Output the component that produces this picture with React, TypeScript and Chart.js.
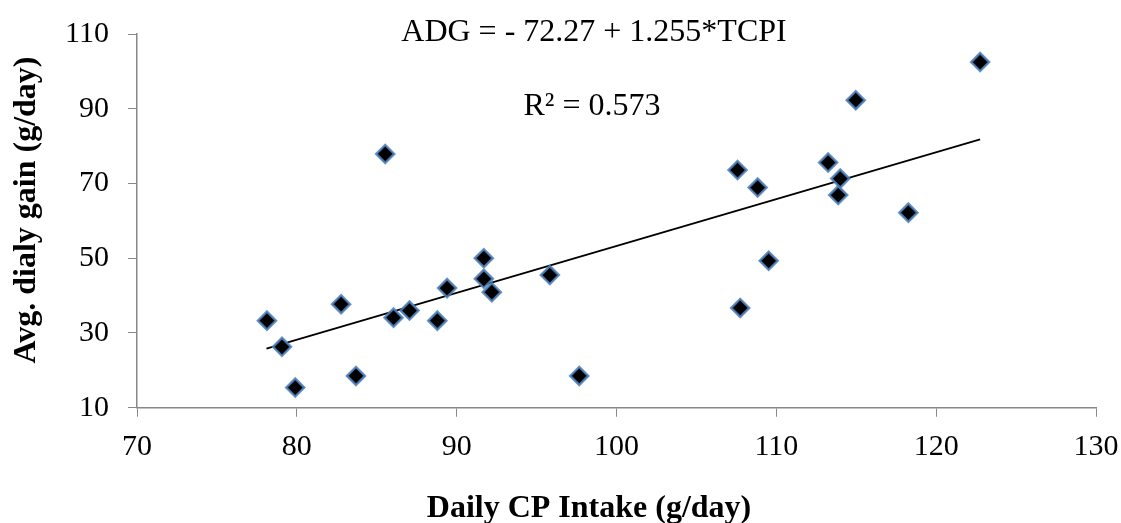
import React, { useEffect, useRef } from "react";
import { Chart, registerables } from "chart.js";

Chart.register(...registerables);

// Daily CP intake (g/day)
const cpIntake = [78.13, 79.07, 79.9, 82.77, 83.7, 85.53, 86.05, 87.05, 88.79, 89.4, 91.7, 91.7, 92.2, 95.83, 97.67, 107.57, 107.74, 108.83, 109.52, 113.24, 113.87, 114.0, 114.97, 118.26, 122.75];
// Average daily gain (g/day)
const dailyGain = [33.3, 26.3, 15.4, 37.7, 18.5, 77.9, 34.1, 36.0, 33.3, 42.0, 50.0, 44.5, 40.9, 45.5, 18.5, 73.6, 36.7, 68.9, 49.3, 75.6, 66.9, 71.3, 92.3, 62.2, 102.5];
// Trend line end points
const trendX = [78.1, 122.75];
const trendY = [25.8, 81.8];

const xTitle = "Daily CP Intake (g/day)";
const yTitle = "Avg. dialy gain (g/day)";
const equationText = "ADG = - 72.27 + 1.255*TCPI";
const r2Text = "R² = 0.573";

const SERIF = '"Liberation Serif", "Times New Roman", serif';

const textPlugin = {
  id: "textPlugin",
  afterDraw(chart: any) {
    const ctx = chart.ctx;
    ctx.save();
    ctx.fillStyle = "#000";
    ctx.textAlign = "center";
    ctx.textBaseline = "alphabetic";
    ctx.font = `32px ${SERIF}`;
    ctx.fillText(equationText, 594, 41);
    ctx.fillText(r2Text, 592, 115);
    ctx.font = `bold 32px ${SERIF}`;
    ctx.fillText(xTitle, 589, 517);
    ctx.translate(35, 210);
    ctx.rotate(-Math.PI / 2);
    ctx.fillText(yTitle, 0, 0);
    ctx.restore();
  },
};

export default function App() {
  const ref = useRef<HTMLCanvasElement | null>(null);
  useEffect(() => {
    if (!ref.current) return;
    const points = cpIntake.map((x, i) => ({ x, y: dailyGain[i] }));
    const trend = trendX.map((x, i) => ({ x, y: trendY[i] }));
    const chart = new Chart(ref.current, {
      type: "scatter",
      data: {
        datasets: [
          {
            label: "ADG",
            data: points,
            pointStyle: "rectRot",
            pointRadius: 9,
            pointBackgroundColor: "#000000",
            pointBorderColor: "rgba(79,129,189,0.85)",
            pointBorderWidth: 2.5,
            showLine: false,
          },
          {
            label: "Trend",
            type: "line",
            data: trend,
            borderColor: "#000000",
            borderWidth: 1.8,
            pointRadius: 0,
            fill: false,
          },
        ],
      },
      options: {
        animation: false,
        responsive: true,
        maintainAspectRatio: false,
        layout: { padding: { top: 34, right: 25, left: 0, bottom: 0 } },
        plugins: { legend: { display: false }, tooltip: { enabled: false } },
        scales: {
          x: {
            type: "linear",
            min: 70,
            max: 130,
            afterFit: (s: any) => {
              s.height = 115.3;
              s.paddingLeft = 0;
              s.paddingRight = 0;
            },
            ticks: {
              stepSize: 10,
              padding: 12,
              maxRotation: 0,
              color: "#000",
              font: { family: SERIF, size: 30 },
            },
            grid: {
              drawOnChartArea: false,
              drawTicks: true,
              tickLength: 9,
              color: "#888888",
            },
            border: { color: "#888888", width: 1.5 },
          },
          y: {
            type: "linear",
            min: 10,
            max: 110,
            afterFit: (s: any) => {
              s.width = 137;
              s.paddingTop = 0;
              s.paddingBottom = 0;
            },
            ticks: {
              stepSize: 20,
              padding: 19,
              color: "#000",
              font: { family: SERIF, size: 30 },
            },
            grid: {
              drawOnChartArea: false,
              drawTicks: true,
              tickLength: 9,
              color: "#888888",
            },
            border: { color: "#888888", width: 1.5 },
          },
        },
      },
      plugins: [textPlugin],
    });
    return () => chart.destroy();
  }, []);
  return (
    <div style={{ position: "absolute", left: 0, top: 0, width: 1121, height: 523, background: "#fff" }}>
      <canvas ref={ref} />
    </div>
  );
}
